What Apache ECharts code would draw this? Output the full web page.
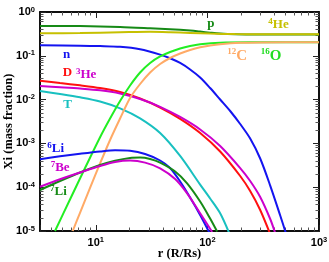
<!DOCTYPE html>
<html><head><meta charset="utf-8">
<script src="https://cdn.jsdelivr.net/npm/echarts@6/dist/echarts.min.js"></script>
<style>html,body{margin:0;padding:0;background:#fff}#c{width:329px;height:262px}</style>
</head><body><div id="c"></div>
<script>
// ---- axis ranges & tick values ----
const xMin = 3.1623, xMax = 1000;
const yMin = 1e-5, yMax = 1;
const xMajor = [10, 100, 1000];
const yMajor = [1e-5, 1e-4, 1e-3, 1e-2, 1e-1, 1];
const xMinor = [4,5,6,7,8,9,20,30,40,50,60,70,80,90,200,300,400,500,600,700,800,900];
const yMinor = [2e-5,3e-5,4e-5,5e-5,6e-5,7e-5,8e-5,9e-5,
                2e-4,3e-4,4e-4,5e-4,6e-4,7e-4,8e-4,9e-4,
                2e-3,3e-3,4e-3,5e-3,6e-3,7e-3,8e-3,9e-3,
                0.02,0.03,0.04,0.05,0.06,0.07,0.08,0.09,
                0.2,0.3,0.4,0.5,0.6,0.7,0.8,0.9];

// ---- data: r (R/Rs) and mass fraction Xi ----
const pR   = [3.162, 7.22, 16.5, 30.66, 46.3, 70, 86.1, 105.8, 130.1, 177.4, 297.2, 1000];
const pX   = [0.479, 0.476, 0.457, 0.427, 0.405, 0.376, 0.357, 0.337, 0.321, 0.311, 0.308, 0.308];
const he4R = [3.162, 7.22, 16.5, 30.66, 46.3, 70, 105.8, 177.4, 297.2, 1000];
const he4X = [0.3265, 0.3316, 0.3439, 0.353, 0.3457, 0.3333, 0.3212, 0.3129, 0.3097, 0.3097];
const nR   = [3.162, 7.22, 10.92, 16.5, 24.94, 37.7, 46.3, 56.98, 70, 86.1, 105.8, 130.1, 160, 196.7, 241.7, 297.2, 365.4, 449.2, 508];
const nX   = [0.1737, 0.1691, 0.1665, 0.1605, 0.1407, 0.1065, 0.0877, 0.0685, 0.0487, 0.032, 0.0184, 0.01005, 0.00549, 0.00277, 0.00129, 4.52e-4, 1.09e-4, 2.26e-5, 8.5e-6];
const dR   = [3.162, 4.78, 7.22, 10.92, 16.5, 24.94, 37.7, 56.98, 86.1, 130.1, 196.7, 241.7, 297.2, 365.4];
const dX   = [0.027, 0.0239, 0.0212, 0.0184, 0.0149, 0.01059, 0.0066, 0.00364, 0.00173, 6.53e-4, 1.8e-4, 8.19e-5, 3.02e-5, 8.5e-6];
const he3R = [3.162, 4.78, 7.22, 10.92, 16.5, 24.94, 37.7, 56.98, 86.1, 130.1, 196.7, 241.7, 297.2, 365.4, 405];
const he3X = [0.02044, 0.01919, 0.01792, 0.01631, 0.01378, 0.01032, 0.00685, 0.00401, 0.00208, 8.72e-4, 2.74e-4, 1.385e-4, 5.98e-5, 1.88e-5, 9e-6];
const tR   = [3.162, 4.78, 7.22, 10.92, 16.5, 24.94, 37.7, 56.98, 86.1, 105.8, 130.1, 156.7];
const tX   = [0.01571, 0.01342, 0.01128, 0.00905, 0.00633, 0.00374, 0.00173, 5.16e-4, 1.147e-4, 5.52e-5, 2.54e-5, 9e-6];
const o16R = [4.31, 5.87, 8.01, 10.92, 13.42, 16.5, 20.28, 24.94, 30.66, 37.7, 46.3, 56.98, 70, 86.1, 130.1, 241.7, 1000];
const o16X = [1e-5, 5.24e-5, 2.74e-4, 0.001385, 0.0037, 0.00929, 0.02099, 0.04157, 0.0685, 0.0964, 0.1221, 0.1468, 0.1674, 0.1831, 0.1991, 0.2033, 0.2033];
const c12R = [6.21, 7.22, 8.88, 10.92, 13.42, 16.5, 20.28, 24.94, 30.66, 37.7, 46.3, 56.98, 70, 86.1, 105.8, 130.1, 196.7, 297.2, 1000];
const c12X = [1e-5, 2.6e-5, 9.59e-5, 3.48e-4, 0.001196, 0.0037, 0.01088, 0.0227, 0.04157, 0.065, 0.0891, 0.1129, 0.1357, 0.1563, 0.1718, 0.184, 0.198, 0.2022, 0.2033];
const li6R = [3.162, 4.78, 7.22, 10.92, 14.88, 20.28, 27.65, 37.7, 46.3, 56.98, 70, 86.1, 105.8];
const li6X = [4.36e-4, 5.08e-4, 5.79e-4, 6.53e-4, 6.96e-4, 6.78e-4, 5.73e-4, 4.07e-4, 2.74e-4, 1.349e-4, 5.82e-5, 2.32e-5, 8.5e-6];
const be7R = [3.162, 4.78, 7.22, 10.92, 14.88, 20.28, 27.65, 37.7, 51.4, 65.8, 86.1, 110.3];
const be7X = [1.026e-4, 1.523e-4, 2.165e-4, 3.05e-4, 3.76e-4, 4.05e-4, 3.64e-4, 2.7e-4, 1.539e-4, 7.26e-5, 2.54e-5, 9.5e-6];
const li7R = [3.162, 4.78, 7.22, 10.92, 14.88, 20.28, 24.94, 30.66, 37.7, 51.4, 65.8, 86.1, 105.8, 122.3];
const li7X = [8.63e-5, 1.385e-4, 2.165e-4, 3.21e-4, 4.01e-4, 4.64e-4, 4.74e-4, 4.4e-4, 3.64e-4, 2.28e-4, 1.227e-4, 4.72e-5, 1.93e-5, 9.7e-6];

// ---- colours ----
const C = {
  dgreen: '#168a16', yellow: '#c6c000', blue: '#1414f0', red: '#ff1010',
  magenta: '#cc00cc', cyan: '#18c0c0', lgreen: '#22ee22', orange: '#ffaa66'
};

const curves = [
  {name: 'p',    r: pR,   x: pX,   color: C.dgreen},
  {name: '4He',  r: he4R, x: he4X, color: C.yellow},
  {name: 'n',    r: nR,   x: nX,   color: C.blue},
  {name: 'D',    r: dR,   x: dX,   color: C.red},
  {name: '3He',  r: he3R, x: he3X, color: C.magenta},
  {name: 'T',    r: tR,   x: tX,   color: C.cyan},
  {name: '16O',  r: o16R, x: o16X, color: C.lgreen},
  {name: '12C',  r: c12R, x: c12X, color: C.orange},
  {name: '6Li',  r: li6R, x: li6X, color: C.blue},
  {name: '7Li',  r: li7R, x: li7X, color: C.dgreen},
  {name: '7Be',  r: be7R, x: be7X, color: C.magenta}
];

// ---- text labels ----
const labels = [
  {sup: '',   main: 'n',  x: 63,    y: 55,   color: C.blue,    size: 13},
  {sup: '',   main: 'D',  x: 62.7,  y: 73,   color: C.red,     size: 13},
  {sup: '3',  main: 'He', x: 76,    y: 74.5, color: C.magenta, size: 13},
  {sup: '',   main: 'T',  x: 63.3,  y: 104.8,color: C.cyan,    size: 13},
  {sup: '6',  main: 'Li', x: 47.3,  y: 148.8,color: C.blue,    size: 13},
  {sup: '7',  main: 'Be', x: 50.7,  y: 167.2,color: C.magenta, size: 13},
  {sup: '7',  main: 'Li', x: 50,    y: 191.5,color: C.dgreen,  size: 13},
  {sup: '',   main: 'p',  x: 207.3, y: 23.2, color: C.dgreen,  size: 13},
  {sup: '4',  main: 'He', x: 268.3, y: 24.8, color: C.yellow,  size: 13},
  {sup: '12', main: 'C',  x: 227.3, y: 55.8, color: C.orange,  size: 15},
  {sup: '16', main: 'O',  x: 260.7, y: 55.8, color: '#22dd22', size: 15}
];

const SANS = 'Liberation Sans', SERIF = 'Liberation Serif';
const tickRich = {
  b: {fontFamily: SANS, fontWeight: 'bold', fontSize: 11, lineHeight: 13, color: '#000'},
  s: {fontFamily: SANS, fontWeight: 'bold', fontSize: 7.5, lineHeight: 8, verticalAlign: 'top', color: '#000'}
};
function powFmt(majors) {
  return function (v) {
    const e = Math.log10(v), k = Math.round(e);
    if (Math.abs(e - k) > 1e-6) return '';
    if (!majors.some(m => Math.abs(Math.log10(m) - k) < 1e-6)) return '';
    return '{b|10}{s|' + k + '}';
  };
}
const nameStyle = {fontFamily: SERIF, fontWeight: 'bold', fontSize: 12.5, color: '#000'};

function majorLog(pos, extra) {
  return Object.assign({
    type: 'log', logBase: 10, position: pos,
    axisLine: {show: true, onZero: false, lineStyle: {color: '#000', width: 1.5}},
    axisTick: {show: true, inside: true, length: 6, lineStyle: {color: '#222', width: 1}},
    axisLabel: {show: false}, splitLine: {show: false}
  }, extra);
}
function minorVal(pos, lo, hi, vals) {
  return {
    type: 'value', position: pos, min: Math.log10(lo), max: Math.log10(hi),
    axisLine: {show: true, onZero: false, lineStyle: {color: '#000', width: 1.5}},
    axisLabel: {show: false}, splitLine: {show: false},
    axisTick: {show: true, inside: true, length: 3.5, lineStyle: {color: '#555', width: 1},
               customValues: vals.map(v => Math.log10(v))}
  };
}

const chart = echarts.init(document.getElementById('c'), null, {renderer: 'canvas'});
chart.setOption({
  animation: false,
  backgroundColor: '#fff',
  grid: {left: 40, right: 10, top: 12, bottom: 31, containLabel: false, outerBoundsMode: 'none'},
  xAxis: [
    majorLog('bottom', {min: xMin, max: xMax, name: 'r (R/Rs)', nameLocation: 'middle', nameGap: 16,
      nameMoveOverlap: false, nameTextStyle: nameStyle,
      axisLabel: {show: true, margin: 5, rich: tickRich, formatter: powFmt(xMajor)}}),
    majorLog('top', {min: xMin, max: xMax}),
    minorVal('bottom', xMin, xMax, xMinor),
    minorVal('top', xMin, xMax, xMinor)
  ],
  yAxis: [
    majorLog('left', {min: yMin, max: yMax, name: 'Xi (mass fraction)', nameLocation: 'middle', nameGap: 25,
      nameMoveOverlap: false, nameTextStyle: nameStyle,
      axisLabel: {show: true, margin: 5, rich: tickRich, formatter: powFmt(yMajor)}}),
    majorLog('right', {min: yMin, max: yMax}),
    minorVal('left', yMin, yMax, yMinor),
    minorVal('right', yMin, yMax, yMinor)
  ],
  series: curves.map(c => ({
    type: 'line', name: c.name, xAxisIndex: 0, yAxisIndex: 0,
    data: c.r.map((r, i) => [r, c.x[i]]),
    symbol: 'none', smooth: 0.3, clip: true, silent: true,
    lineStyle: {color: c.color, width: 2}, itemStyle: {color: c.color}
  })),
  graphic: labels.map(l => ({
    type: 'text', x: l.x, y: l.y, silent: true, z: 100,
    style: {
      text: (l.sup ? '{s|' + l.sup + '}' : '') + '{b|' + l.main + '}',
      align: 'left', verticalAlign: 'middle', fill: l.color,
      rich: {
        b: {fontFamily: SERIF, fontWeight: 'bold', fontSize: l.size, lineHeight: l.size + 2, fill: l.color},
        s: {fontFamily: SERIF, fontWeight: 'bold', fontSize: 9, lineHeight: l.size > 13 ? 10 : 8, verticalAlign: 'top', fill: l.color}
      }
    }
  }))
});
</script>
</body></html>
